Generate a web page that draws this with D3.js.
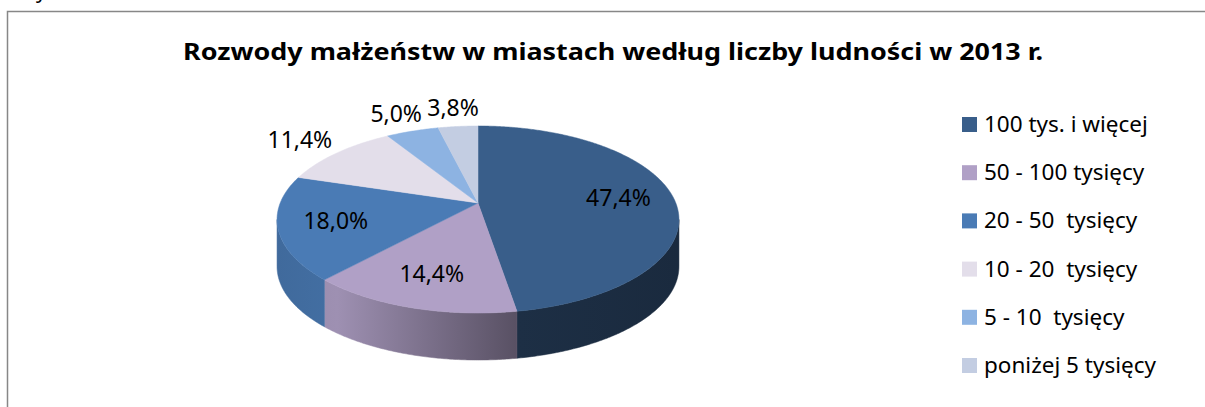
<!DOCTYPE html>
<html>
<head>
<meta charset="utf-8">
<script src="https://cdn.jsdelivr.net/npm/d3@7"></script>
<style>
  html, body { margin: 0; padding: 0; background: #fff; }
  svg text { font-family: "Noto Sans", "DejaVu Sans", sans-serif; fill: #000; }
</style>
</head>
<body>
<div id="chart"></div>
<script>
// Data
var categories = [
    "100 tys. i więcej",
    "50 - 100 tysięcy",
    "20 - 50  tysięcy",
    "10 - 20  tysięcy",
    "5 - 10  tysięcy",
    "poniżej 5 tysięcy"
];
var values = [47.4, 14.4, 18.0, 11.4, 5.0, 3.8];
var colors = ["#395E8A", "#B0A0C6", "#4A7BB5", "#E3DEEA", "#8DB3E2", "#C3CDE2"];
var title = "Rozwody małżeństw w miastach według liczby ludności w 2013 r.";

var width = 1205, height = 407;

// 3d pie geometry (perspective ellipse)
var CX = 478, CY = 203, A = 197.8, B = 90.6, K = 0.1765, DEPTH = 47;

var plLocale = d3.formatLocale({decimal: ",", thousands: " ", grouping: [3], currency: ["", " zł"]});
var fmt = plLocale.format(".1f");

function proj(theta, r, dz) {
    var u = r * Math.sin(theta), v = -r * Math.cos(theta);
    var w = 1 - K * v;
    return [CX + A * u / w, CY + B * v / w + (dz || 0)];
}

function arcPoints(a, b, r, dz) {
    var n = Math.max(2, Math.ceil((b - a) / (Math.PI / 360)));
    var pts = [];
    for (var i = 0; i <= n; i++) {
        pts.push(proj(a + (b - a) * i / n, r, dz));
    }
    return pts;
}

var svg = d3.select("#chart").append("svg")
    .attr("width", width)
    .attr("height", height);

// bit of text cut by the top edge, as in the original screenshot
svg.append("text")
    .attr("x", 36)
    .attr("y", -2)
    .style("font-size", "21px")
    .text("y");

// frame
svg.append("polyline")
    .attr("points", "7.5," + height + " 7.5,11.5 " + width + ",11.5")
    .style("fill", "none")
    .style("stroke", "#878787")
    .style("stroke-width", 1.5);

// title
svg.append("text")
    .attr("x", 613)
    .attr("y", 60)
    .attr("text-anchor", "middle")
    .attr("textLength", 860)
    .attr("lengthAdjust", "spacingAndGlyphs")
    .style("font-size", "23.5px")
    .style("font-weight", "bold")
    .text(title);

var pie = d3.pie().sort(null).value(function(d) { return d; });
var arcs = pie(values);

// side shading gradients
var defs = svg.append("defs");
var shade = [[0, 0.86], [0.15, 0.9], [0.6, 0.5], [1, 0.45]];
arcs.forEach(function(d, i) {
    var g = defs.append("linearGradient")
        .attr("id", "side-" + i)
        .attr("gradientUnits", "userSpaceOnUse")
        .attr("x1", CX - 201).attr("x2", CX + 201)
        .attr("y1", 0).attr("y2", 0);
    shade.forEach(function(s) {
        var c = d3.rgb(colors[i]);
        g.append("stop")
            .attr("offset", s[0])
            .attr("stop-color", d3.rgb(c.r * s[1], c.g * s[1], c.b * s[1]).formatHex());
    });
});

// visible front wall
var F0 = Math.acos(-K), F1 = 2 * Math.PI - Math.acos(-K);
var sideG = svg.append("g");
arcs.forEach(function(d, i) {
    var a = Math.max(d.startAngle, F0), b = Math.min(d.endAngle, F1);
    if (b <= a) return;
    var top = arcPoints(a, b, 1, 0);
    var bottom = arcPoints(a, b, 1, DEPTH).reverse();
    sideG.append("path")
        .attr("d", d3.line()(top.concat(bottom)) + "Z")
        .style("fill", "url(#side-" + i + ")")
        .style("stroke", "url(#side-" + i + ")")
        .style("stroke-width", 0.5);
});

// top faces
var topG = svg.append("g");
arcs.forEach(function(d, i) {
    var pts = [[CX, CY]].concat(arcPoints(d.startAngle, d.endAngle, 1, 0));
    topG.append("path")
        .attr("d", d3.line()(pts) + "Z")
        .style("fill", colors[i])
        .style("stroke", colors[i])
        .style("stroke-width", 0.5);
});

// data labels
var labelG = svg.append("g");
arcs.forEach(function(d, i) {
    var mid = (d.startAngle + d.endAngle) / 2;
    var outside = d.value < 12;
    var p = proj(mid, outside ? 1.3 : 0.72, 0);
    labelG.append("text")
        .attr("x", p[0])
        .attr("y", p[1])
        .attr("dy", "0.36em")
        .attr("text-anchor", "middle")
        .style("font-size", "23px")
        .text(fmt(d.value) + "%");
});

// legend
var ly = d3.scaleLinear().domain([0, categories.length - 1]).range([117, 358]);
var legend = svg.append("g").selectAll("g").data(categories).enter()
    .append("g")
    .attr("transform", function(d, i) { return "translate(962," + ly(i) + ")"; });
legend.append("rect")
    .attr("width", 15)
    .attr("height", 15)
    .style("fill", function(d, i) { return colors[i]; });
legend.append("text")
    .attr("x", 22)
    .attr("y", 15)
    .style("font-size", "22.5px")
    .style("white-space", "pre")
    .text(function(d) { return d; });
</script>
</body>
</html>
